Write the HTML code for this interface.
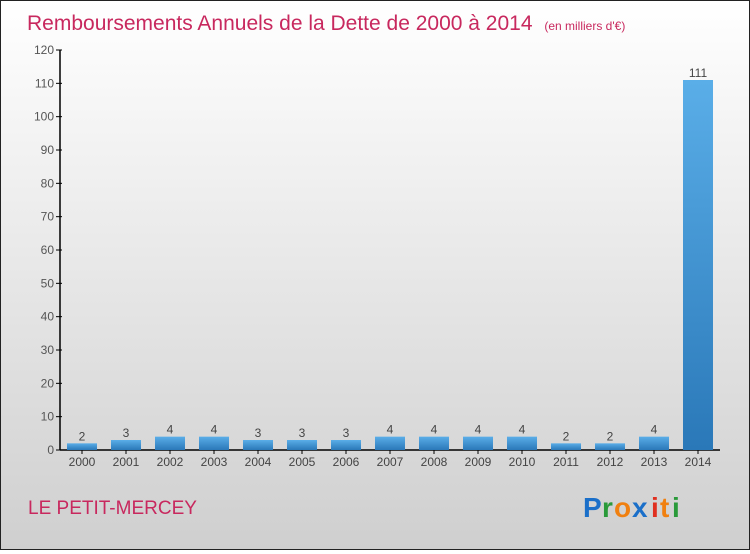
<!DOCTYPE html>
<html><head><meta charset="utf-8"><style>
html,body{margin:0;padding:0}
body{width:750px;height:550px;overflow:hidden;font-family:"Liberation Sans",sans-serif}
#wrap{position:relative;width:748px;height:548px;border:1px solid #222;background:linear-gradient(#ffffff,#cfcfcf)}
</style></head><body>
<div id="wrap">
<svg width="748" height="548" viewBox="1 1 748 548" xmlns="http://www.w3.org/2000/svg">
<defs><linearGradient id="bg" x1="0" y1="0" x2="0" y2="1"><stop offset="0" stop-color="#5aaee8"/><stop offset="1" stop-color="#2a78b8"/></linearGradient></defs>
<text x="27" y="30" font-size="21" fill="#c8285e">Remboursements Annuels de la Dette de 2000 à 2014 <tspan font-size="12" dx="6">(en milliers d'€)</tspan></text>
<g id="axes"></g>
<g id="bars"></g>
<text x="28" y="514" font-size="19" fill="#c8285e">LE PETIT-MERCEY</text>
<g font-size="28" font-weight="bold" font-family="'Liberation Sans',sans-serif">
<text x="583" y="517" fill="#1a6fc9">P</text><text x="602" y="517" fill="#2a9a3a">r</text><text x="614" y="517" fill="#f08010">o</text><text x="632" y="517" fill="#1a6fc9">x</text><text x="651" y="517" fill="#e03020">i</text><text x="660" y="517" fill="#f08010">t</text><text x="672" y="517" fill="#2a9a3a">i</text>
</g>
</svg></div>
<script>
const years=["2000","2001","2002","2003","2004","2005","2006","2007","2008","2009","2010","2011","2012","2013","2014"];
const values=[2,3,4,4,3,3,3,4,4,4,4,2,2,4,111];
const yTicks=[0,10,20,30,40,50,60,70,80,90,100,110,120];
const NS="http://www.w3.org/2000/svg";
const y0=450,yTop=50,yMax=120;
const y=v=>y0-(v/yMax)*(y0-yTop);
const x=i=>82+i*44;
function mk(t,a,p){const e=document.createElementNS(NS,t);for(const k in a)e.setAttribute(k,a[k]);p.appendChild(e);return e;}
const ax=document.getElementById('axes'),bars=document.getElementById('bars');
let l=mk('line',{x1:60,y1:y0,x2:60,y2:yTop,stroke:'#000','stroke-width':1.5},ax);


l=mk('line',{x1:60,y1:y0,x2:720,y2:y0,stroke:'#000','stroke-width':1.5},ax);


yTicks.forEach(v=>{
 const t=mk('line',{x1:56,x2:62,y1:y(v),y2:y(v),stroke:'#000'},ax);
 
 
 const tx=mk('text',{x:54,y:y(v)+4,'text-anchor':'end','font-size':12,fill:'#555'},ax);
 tx.textContent=v;
 
 
});
years.forEach((yr,i)=>{
 const v=values[i];
 const r=mk('rect',{x:x(i)-15,y:y(v),width:30,height:y0-y(v),fill:'url(#bg)'},bars);
 
 
 const vl=mk('text',{x:x(i),y:y(v)-3,'text-anchor':'middle','font-size':12,fill:'#444'},bars);
 vl.textContent=v;
 
 
 const t=mk('line',{x1:x(i),x2:x(i),y1:y0,y2:y0+4,stroke:'#000'},ax);
 
 
 const xl=mk('text',{x:x(i),y:466,'text-anchor':'middle','font-size':12,fill:'#444'},ax);
 xl.textContent=yr;
 
 
});
</script>
</body></html>
